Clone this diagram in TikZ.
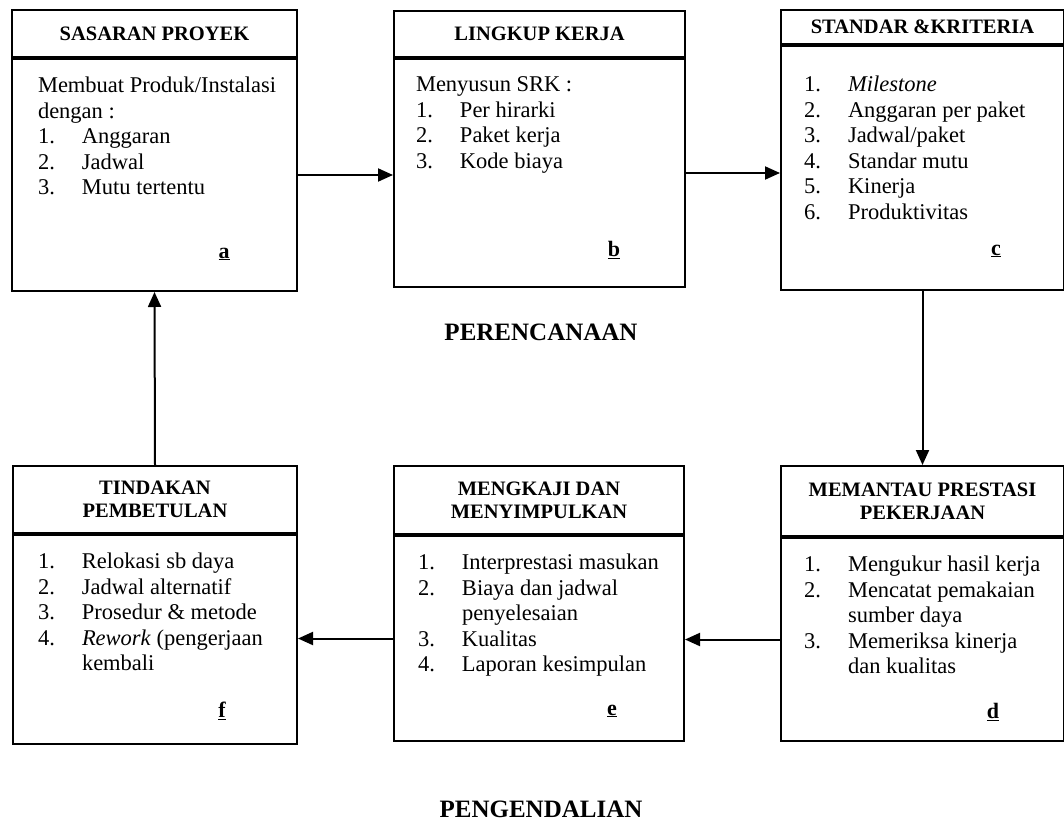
\documentclass[tikz,border=0pt]{standalone}
\usepackage{fontspec}
\setmainfont{Liberation Serif}
\usepackage{tikz}
\usetikzlibrary{positioning,arrows.meta}

\newcommand{\itm}[2]{\makebox[44pt][l]{#1}#2\\}
\newcommand{\isi}[3]{\parbox[t][#1][t]{#2}{\vspace*{18pt}#3}}

\begin{document}
\begin{tikzpicture}[x=1pt, y=-1pt,
      node distance=0pt,
      hdr/.style={draw, line width=2pt, inner sep=0pt, align=center,
        font=\fontsize{20.5}{23}\selectfont\bfseries},
      bdy/.style={draw, line width=2pt, inner sep=0pt, align=left,
        font=\fontsize{22.5}{25.5}\selectfont, anchor=north},
      tag/.style={font=\fontsize{22}{25}\selectfont\bfseries},
      ttl/.style={font=\fontsize{25}{28}\selectfont\bfseries},
      arr/.style={-{Triangle[length=15pt,width=13pt]}, line width=2pt}]
    \useasboundingbox (0,0) rectangle (1064,821);
    % perencanaan
    \node[hdr, minimum width=285pt, minimum height=47pt, anchor=north west] (sas-h) at (11,9) {SASARAN PROYEK};
    \node[bdy, below=of sas-h] (sas) {\isi{232pt}{285pt}{\leftskip=26pt
      Membuat Produk/Instalasi\\
      dengan :\\
      \itm{1.}{Anggaran}
      \itm{2.}{Jadwal}
      \itm{3.}{Mutu tertentu}}};
    \node[hdr, minimum width=291pt, minimum height=46pt, anchor=north west] (lkp-h) at (393,10) {LINGKUP KERJA};
    \node[bdy, below=of lkp-h] (lkp) {\isi{228pt}{291pt}{\leftskip=22pt
      Menyusun SRK :\\
      \itm{1.}{Per hirarki}
      \itm{2.}{Paket kerja}
      \itm{3.}{Kode biaya}}};
    \node[hdr, minimum width=283pt, minimum height=34pt, anchor=north west] (std-h) at (780,9) {STANDAR \&KRITERIA};
    \node[bdy, below=of std-h] (std) {\isi{244pt}{283pt}{\vspace*{12pt}\leftskip=23pt
      \itm{1.}{\textit{Milestone}}
      \itm{2.}{Anggaran per paket}
      \itm{3.}{Jadwal/paket}
      \itm{4.}{Standar mutu}
      \itm{5.}{Kinerja}
      \itm{6.}{Produktivitas}}};
    % pengendalian
    \node[hdr, minimum width=283pt, minimum height=70pt, anchor=north west] (ptu-h) at (780,465) {MEMANTAU PRESTASI\\PEKERJAAN};
    \node[bdy, below=of ptu-h] (ptu) {\isi{203pt}{283pt}{\leftskip=23pt
      \itm{1.}{Mengukur hasil kerja}
      \itm{2.}{Mencatat pemakaian}
      \itm{}{sumber daya}
      \itm{3.}{Memeriksa kinerja}
      \itm{}{dan kualitas}}};
    \node[hdr, minimum width=290pt, minimum height=68pt, anchor=north west] (kji-h) at (393,465) {MENGKAJI DAN\\MENYIMPULKAN};
    \node[bdy, below=of kji-h] (kji) {\isi{205pt}{290pt}{\leftskip=24pt
      \itm{1.}{Interprestasi masukan}
      \itm{2.}{Biaya dan jadwal}
      \itm{}{penyelesaian}
      \itm{3.}{Kualitas}
      \itm{4.}{Laporan kesimpulan}}};
    \node[hdr, minimum width=284pt, minimum height=67pt, anchor=north west] (tdk-h) at (12,465) {TINDAKAN\\PEMBETULAN};
    \node[bdy, below=of tdk-h] (tdk) {\isi{209pt}{284pt}{\leftskip=25pt
      \itm{1.}{Relokasi sb daya}
      \itm{2.}{Jadwal alternatif}
      \itm{3.}{Prosedur \& metode}
      \itm{4.}{\textit{Rework} (pengerjaan}
      \itm{}{kembali}}};
    % huruf
    \node[tag] (ta) at ([shift={(-74pt,38pt)}]sas.south east) {\underline{a}};
    \node[tag] (tb) at ([shift={(-72pt,38pt)}]lkp.south east) {\underline{b}};
    \node[tag] (tc) at ([shift={(-69pt,40pt)}]std.south east) {\underline{c}};
    \node[tag] (td) at ([shift={(-72pt,30pt)}]ptu.south east) {\underline{d}};
    \node[tag] (te) at ([shift={(-73pt,31pt)}]kji.south east) {\underline{e}};
    \node[tag] (tf) at ([shift={(-76pt,34pt)}]tdk.south east) {\underline{f}};
    \node[ttl] (plan) at (541,332) {PERENCANAAN};
    \node[ttl] (ctrl) at (541,809) {PENGENDALIAN};
    \draw[arr] (sas.east) -- (sas.east -| lkp.west);
    \draw[arr] (lkp.east) -- (lkp.east -| std.west);
    \draw[arr] (std.south) -- (ptu-h.north);
    \draw[arr] (ptu.west) -- (ptu.west -| kji.east);
    \draw[arr] (kji.west) -- (kji.west -| tdk.east);
    \draw[arr] (tdk-h.north) -- (sas.south);
  \end{tikzpicture}
\end{document}
